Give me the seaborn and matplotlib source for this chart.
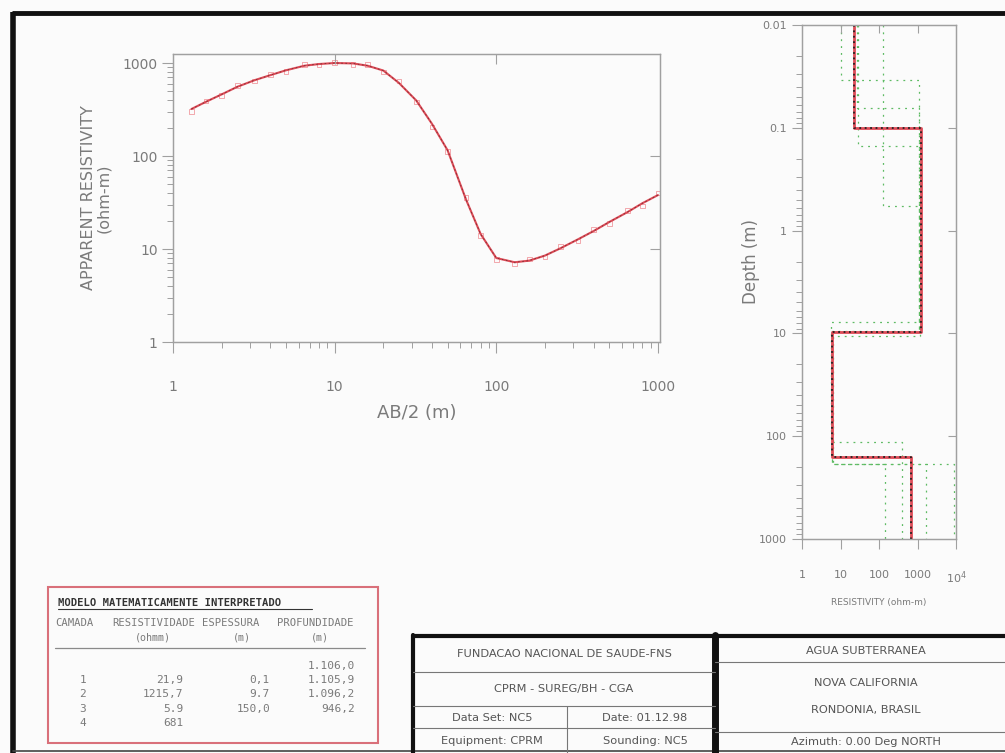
import matplotlib
matplotlib.use('Agg')

import matplotlib.pyplot as plt
import matplotlib.ticker as mticker
from matplotlib.patches import Rectangle
import seaborn as sns
import pandas as pd

# ---------------------------------------------------------------------------
# Data
# ---------------------------------------------------------------------------
AB2 = [1.3, 1.6, 2.0, 2.5, 3.2, 4.0, 5.0, 6.5, 8.0, 10, 13, 16, 20, 25, 32,
       40, 50, 65, 80, 100, 130, 160, 200, 250, 320, 400, 500, 650, 800, 1000]
RHO_MODEL = [320, 383, 460, 555, 654, 740, 835, 935, 975, 1000, 990, 935, 830,
             610, 395, 222, 115, 34, 14.5, 8.0, 7.2, 7.5, 8.5, 10.2, 12.7,
             15.6, 19.5, 25, 31, 38]
RHO_OBS = [300, 390, 445, 570, 640, 760, 810, 960, 950, 1020, 960, 960, 800,
           640, 380, 205, 112, 36, 14, 7.7, 6.9, 7.8, 8.2, 10.6, 12.2, 16.2,
           18.8, 26, 29, 40]

# interpreted layered model
LAYER_RHO = [21.9, 1215.7, 5.9, 681]
LAYER_BOTTOM = [0.1, 9.8, 159.8]

# equivalent models (green dotted)
EQUIV_RHO = [
    [10, 1100, 5.5, 390],
    [27, 1100, 5.9, 1700],
    [28, 1150, 6.2, 9000],
    [130, 1100, 6.0, 145],
]
EQUIV_BOTTOM = [
    [0.034, 7.8, 115],
    [0.064, 9.5, 187],
    [0.15, 10.5, 187],
    [0.58, 9.8, 187],
]

# table of the interpreted model
TABLE_TITLE = 'MODELO MATEMATICAMENTE INTERPRETADO'
TABLE_HEAD = ['CAMADA', 'RESISTIVIDADE', 'ESPESSURA', 'PROFUNDIDADE']
TABLE_UNITS = ['(ohmm)', '(m)', '(m)']
TABLE_LAYER = ['', '1', '2', '3', '4']
TABLE_RHO = ['', '21,9', '1215,7', '5.9', '681']
TABLE_THICK = ['', '0,1', '9.7', '150,0', '']
TABLE_DEPTH = ['1.106,0', '1.105,9', '1.096,2', '946,2', '']

# title block
BLOCK_LEFT = ['FUNDACAO NACIONAL DE SAUDE-FNS', 'CPRM - SUREG/BH - CGA']
BLOCK_CELLS = [['Data Set: NC5', 'Date: 01.12.98'],
               ['Equipment: CPRM', 'Sounding: NC5']]
BLOCK_RIGHT = ['AGUA SUBTERRANEA', 'NOVA CALIFORNIA', 'RONDONIA, BRASIL',
               'Azimuth: 0.00 Deg NORTH']

# ---------------------------------------------------------------------------
TEXT = '#7a7a7a'
SPINE = '#a0a0a0'
RED = '#de4b57'
GREEN = '#5dbb63'
PAGE = '#fbfbfb'

sns.set_style('white')
plt.rcParams['font.family'] = ['DejaVu Sans']
plt.rcParams['axes.edgecolor'] = SPINE
plt.rcParams['xtick.color'] = SPINE
plt.rcParams['ytick.color'] = SPINE
plt.rcParams['xtick.labelcolor'] = TEXT
plt.rcParams['ytick.labelcolor'] = TEXT

W, H = 1005, 753
fig = plt.figure(figsize=(W / 100, H / 100), dpi=100, facecolor=PAGE)


def frac(left, top, right, bottom):
    return [left / W, 1 - bottom / H, (right - left) / W, (bottom - top) / H]


def step_path(rho, bottoms, top=0.01, base=1000):
    edges = [top] + list(bottoms) + [base]
    xs, ys = [], []
    for i, r in enumerate(rho):
        xs += [r, r]
        ys += [edges[i], edges[i + 1]]
    return pd.DataFrame({'rho': xs, 'depth': ys})


# page overlay in pixel coordinates
bg = fig.add_axes([0, 0, 1, 1])
bg.set_xlim(0, W)
bg.set_ylim(H, 0)
bg.axis('off')

# ---------------------------------------------------------------------------
# Sounding curve
# ---------------------------------------------------------------------------
ax = fig.add_axes(frac(173, 54, 660, 342))
ax.set_facecolor(PAGE)
ax.set_xscale('log')
ax.set_yscale('log')
curve = pd.DataFrame({'ab2': AB2, 'model': RHO_MODEL, 'obs': RHO_OBS})
sns.scatterplot(data=curve, x='ab2', y='obs', marker='s', s=12,
                facecolor='none', edgecolor='#f2a8ad', linewidth=0.7, ax=ax)
sns.lineplot(data=curve, x='ab2', y='model', color=RED, lw=1.5, ax=ax)
sns.lineplot(data=curve, x='ab2', y='model', color='#3a1a1a', lw=0.6,
             ls=(0, (2, 3)), alpha=0.6, ax=ax)
ax.set_xlim(1, 1030)
ax.set_ylim(1, 1250)
ax.set_xticks([1, 10, 100, 1000])
ax.set_yticks([1, 10, 100, 1000])
ax.xaxis.set_major_formatter(mticker.FuncFormatter(lambda v, p: f'{v:g}'))
ax.yaxis.set_major_formatter(mticker.FuncFormatter(lambda v, p: f'{v:g}'))
ax.tick_params(which='major', direction='out', length=8, width=0.8)
ax.tick_params(which='minor', direction='out', length=4, width=0.7)
ax.tick_params(axis='x', which='major', pad=19, labelsize=10)
ax.tick_params(axis='y', which='major', pad=3, labelsize=10)
for s in ax.spines.values():
    s.set_linewidth(0.9)
ax.set_xlabel('AB/2 (m)', fontsize=13, color=TEXT)
ax.set_ylabel('APPARENT RESISTIVITY\n(ohm-m)', fontsize=11.5, color=TEXT,
              linespacing=0.95)
ax.xaxis.set_label_coords(0.5, -0.215)
ax.yaxis.set_label_coords(-0.128, 0.5)

# inward ticks on top and right
axt = ax.twiny()
axt.set_xscale('log')
axt.set_xlim(ax.get_xlim())
axt.set_xticks([10, 100])
axt.xaxis.set_minor_locator(mticker.NullLocator())
axt.tick_params(direction='in', length=7, labeltop=False, color=SPINE)
axr = ax.twinx()
axr.set_yscale('log')
axr.set_ylim(ax.get_ylim())
axr.set_yticks([10, 100])
axr.yaxis.set_minor_locator(mticker.NullLocator())
axr.tick_params(direction='in', length=7, labelright=False, color=SPINE)

# ---------------------------------------------------------------------------
# Layered model
# ---------------------------------------------------------------------------
ad = fig.add_axes(frac(802, 25, 956, 539))
ad.set_facecolor(PAGE)
ad.set_xscale('log')
ad.set_yscale('log')
for rho, bot in zip(EQUIV_RHO, EQUIV_BOTTOM):
    sns.lineplot(data=step_path(rho, bot), x='rho', y='depth', sort=False,
                 estimator=None, color=GREEN, lw=0.9, ls=(0, (1.5, 4)), ax=ad)
model = step_path(LAYER_RHO, LAYER_BOTTOM)
sns.lineplot(data=model, x='rho', y='depth', sort=False, estimator=None,
             color=RED, lw=2.0, ax=ad)
sns.lineplot(data=model, x='rho', y='depth', sort=False, estimator=None,
             color='#222222', lw=1.3, ls=(0, (1, 2)), ax=ad)
ad.set_xlim(1, 1e4)
ad.set_ylim(1000, 0.01)
ad.set_xticks([1, 10, 100, 1000, 1e4])
ad.set_xticklabels(['1', '10', '100', '1000', r'$10^4$'])
ad.set_yticks([0.01, 0.1, 1, 10, 100, 1000])
ad.set_yticklabels(['0.01', '0.1', '1', '10', '100', '1000'])
ad.tick_params(which='major', direction='out', length=7, width=0.8)
ad.tick_params(which='minor', direction='out', length=4, width=0.7)
ad.tick_params(axis='x', which='major', pad=15, labelsize=8)
ad.tick_params(axis='y', which='major', pad=4, labelsize=8)
for s in ad.spines.values():
    s.set_linewidth(0.9)
ad.set_xlabel('RESISTIVITY (ohm-m)', fontsize=6.5, color=TEXT)
ad.set_ylabel('Depth (m)', fontsize=12, color=TEXT)
ad.xaxis.set_label_coords(0.5, -0.115)
ad.yaxis.set_label_coords(-0.27, 0.54)

adt = ad.twiny()
adt.set_xscale('log')
adt.set_xlim(ad.get_xlim())
adt.set_xticks([10, 100, 1000])
adt.xaxis.set_minor_locator(mticker.NullLocator())
adt.tick_params(direction='in', length=6, labeltop=False, color=SPINE)
adr = ad.twinx()
adr.set_yscale('log')
adr.set_ylim(ad.get_ylim())
adr.set_yticks([0.1, 1, 10, 100])
adr.yaxis.set_minor_locator(mticker.NullLocator())
adr.tick_params(direction='in', length=6, labelright=False, color=SPINE)

# ---------------------------------------------------------------------------
# Page frame, model table and title block
# ---------------------------------------------------------------------------
bg.plot([12, 1005], [13, 13], color='#111111', lw=3.5, solid_capstyle='butt')
bg.plot([13, 13], [12, 753], color='#111111', lw=4, solid_capstyle='butt')
bg.plot([13, 1005], [751, 751], color='#444444', lw=1.2)

# model table
bg.add_patch(Rectangle((48, 587), 330, 156, fill=False, ec='#d9707a', lw=1.5))
mono = 'DejaVu Sans Mono'
bg.text(58, 603, TABLE_TITLE, family=mono, fontsize=7.6, fontweight='bold',
        color='#333333', va='center')
bg.plot([58, 312], [609, 609], color='#333333', lw=0.8)
for label, x0 in zip(TABLE_HEAD, [55, 112, 202, 277]):
    bg.text(x0, 623, label, family=mono, fontsize=7.6, color=TEXT, va='center')
for label, xc in zip(TABLE_UNITS, [153, 242, 320]):
    bg.text(xc, 637, label, family=mono, fontsize=7.2, color=TEXT,
            ha='center', va='center')
bg.plot([55, 365], [648, 648], color='#8a8a8a', lw=0.9)
row_y = [666, 680, 694, 709, 723]
for i, y in enumerate(row_y):
    bg.text(83, y, TABLE_LAYER[i], family=mono, fontsize=8, color=TEXT,
            ha='center', va='center')
    bg.text(183, y, TABLE_RHO[i], family=mono, fontsize=8, color=TEXT,
            ha='right', va='center')
    bg.text(270, y, TABLE_THICK[i], family=mono, fontsize=8, color=TEXT,
            ha='right', va='center')
    bg.text(355, y, TABLE_DEPTH[i], family=mono, fontsize=8, color=TEXT,
            ha='right', va='center')

# title block
thin = dict(color='#777777', lw=0.8)
bg.plot([413, 1005], [636, 636], color='#111111', lw=3, solid_capstyle='butt')
bg.plot([413, 413], [635, 753], color='#111111', lw=3)
bg.plot([715, 715], [635, 753], color='#111111', lw=5)
for y in [672, 706, 728]:
    bg.plot([413, 715], [y, y], **thin)
bg.plot([567, 567], [706, 753], **thin)
for y in [662, 732]:
    bg.plot([715, 1005], [y, y], **thin)

block_font = dict(fontsize=8.2, color='#555555', ha='center', va='center')
bg.text(564, 654, BLOCK_LEFT[0], **block_font)
bg.text(564, 689, BLOCK_LEFT[1], **block_font)
for row, y in zip(BLOCK_CELLS, [718, 741]):
    bg.text(492, y, row[0], **block_font)
    bg.text(645, y, row[1], **block_font)
for label, y in zip(BLOCK_RIGHT, [651, 683, 710, 742]):
    bg.text(866, y, label, **block_font)

fig.savefig('out.png', dpi=100, facecolor=PAGE)
